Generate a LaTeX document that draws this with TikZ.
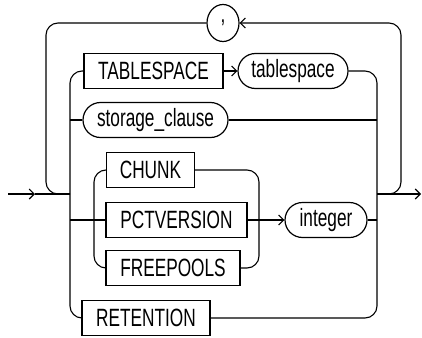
\documentclass[tikz,border=0pt]{standalone}
\usepackage{fontspec}
\newfontfamily\railfont[FakeStretch=0.69]{Liberation Sans}
\usetikzlibrary{arrows.meta,shapes.geometric}
\tikzset{
  kwbox/.style={draw, line width=1.2pt, minimum height=35pt, inner sep=0pt,
    font=\railfont\fontsize{25}{27}\selectfont},
  refbox/.style={kwbox, rounded corners=17.5pt},
  rail/.style={line width=1.1pt, rounded corners=12pt},
  tip/.style={-{Straight Barb[length=5pt,width=10pt,line width=1.1pt]}}
}
\begin{document}
\begin{tikzpicture}[x=1pt,y=-1pt]
\useasboundingbox (0,0) rectangle (422,337);
% nodi
\node[kwbox, ellipse, minimum width=32pt, minimum height=37pt] (comma) at (223,23) {,};
\node[kwbox, minimum width=139pt] (tskw) at (153.5,71) {TABLESPACE};
\node[refbox, minimum width=110pt] (tsref) at (293,71) {tablespace};
\node[refbox, minimum width=145pt] (storage) at (155.5,120) {storage\_clause};
\node[kwbox, minimum width=88pt] (chunk) at (150.5,170) {CHUNK};
\node[kwbox, minimum width=141pt] (pctv) at (176.5,220) {PCTVERSION};
\node[kwbox, minimum width=134pt] (freep) at (173,268) {FREEPOOLS};
\node[refbox, minimum width=82pt] (intg) at (326,220) {integer};
\node[kwbox, minimum width=128pt] (reten) at (146,318) {RETENTION};
% punti
\coordinate (in) at (8,194);
\coordinate (mid) at (35,194);
\coordinate (jl) at (70,194);
\coordinate (jr) at (377,194);
\coordinate (out) at (421,194);
% linea principale
\draw[rail,tip] (in) -- (mid);
\draw[rail] (mid) -- (jl);
\draw[rail,tip] (jr) -- (out);
% ciclo
\draw[rail] (comma.west) -| (46,120) |- (jl);
\draw[rail,tip] (jr) -- (401,194) |- (comma.east);
% rami a sinistra
\draw[rail] (tskw.west) -| (70,200) |- (reten.west);
\draw[rail] (70,120) -- (storage.west);
\draw[rail] (70,220) -- (pctv.west);
\draw[rail] (chunk.west) -| (94,230) |- (freep.west);
% rami a destra
\draw[rail,tip] (tskw) -- (tsref);
\draw[rail] (chunk.east) -| (259,230) |- (freep.east);
\draw[rail,tip] (pctv) -- (intg);
\draw[rail] (tsref.east) -| (377,250) |- (reten.east);
\draw[rail] (storage.east) -- (377,120);
\draw[rail] (intg.east) -- (377,220);
\end{tikzpicture}
\end{document}
